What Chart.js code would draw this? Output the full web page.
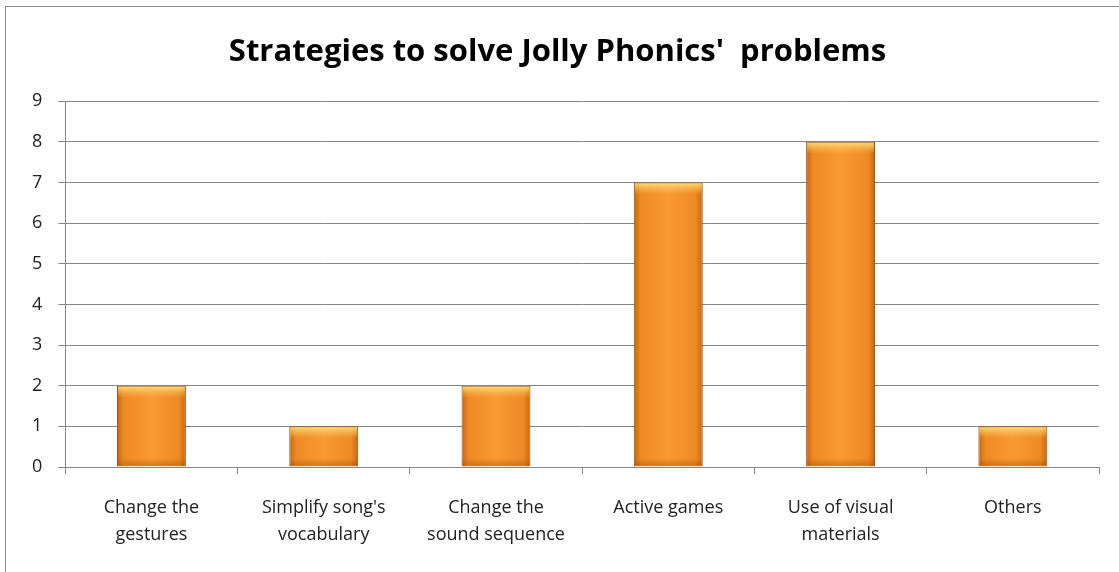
<!DOCTYPE html>
<html>
<head>
<meta charset="utf-8">
<script src="https://cdn.jsdelivr.net/npm/chart.js@4"></script>
<style>
  html, body { margin: 0; padding: 0; background: #fff; }
  #wrap { position: absolute; left: 0; top: 0; width: 1119px; height: 572px; }
  #frame { position: absolute; left: 5px; top: 6px; width: 1120px; height: 580px;
           border-left: 1px solid #8c8c8c; border-top: 1px solid #8c8c8c; }
</style>
</head>
<body>
<div id="wrap">
  <div id="frame"></div>
  <canvas id="strategies" width="1119" height="572"></canvas>
</div>
<script>
// chart data
const categories = [
    ['Change the', 'gestures'],
    ["Simplify song's", 'vocabulary'],
    ['Change the', 'sound sequence'],
    'Active games',
    ['Use of visual', 'materials'],
    'Others'
];
const answers = [2, 1, 2, 7, 8, 1];
const yTicks = [0, 1, 2, 3, 4, 5, 6, 7, 8, 9];

// orange bar fill, darker at the sides like the Excel bevel
function barFill(context) {
    const chart = context.chart;
    if (!chart.chartArea || !chart.scales.x) {
        return '#f28c26';
    }
    const x = chart.scales.x;
    const center = x.getPixelForValue(context.dataIndex);
    const half = (x.width / categories.length) * 0.4 / 2;
    const g = chart.ctx.createLinearGradient(center - half, 0, center + half, 0);
    g.addColorStop(0, '#c46614');
    g.addColorStop(0.1, '#ee8a24');
    g.addColorStop(0.5, '#f89a32');
    g.addColorStop(0.9, '#ee8a24');
    g.addColorStop(1, '#c46614');
    return g;
}

// light top edge + dark bottom edge on each bar
const bevel = {
    id: 'bevel',
    afterDatasetsDraw(chart) {
        const ctx = chart.ctx;
        chart.getDatasetMeta(0).data.forEach(bar => {
            const left = bar.x - bar.width / 2;
            const top = bar.y;
            const h = bar.base - bar.y;
            ctx.save();
            let g = ctx.createLinearGradient(0, top, 0, top + 12);
            g.addColorStop(0, 'rgba(255, 225, 130, 0.95)');
            g.addColorStop(1, 'rgba(255, 200, 90, 0)');
            ctx.fillStyle = g;
            ctx.fillRect(left + 1, top + 1, bar.width - 2, Math.min(12, h - 2));
            g = ctx.createLinearGradient(0, bar.base - 8, 0, bar.base);
            g.addColorStop(0, 'rgba(150, 70, 10, 0)');
            g.addColorStop(1, 'rgba(150, 70, 10, 0.45)');
            ctx.fillStyle = g;
            ctx.fillRect(left + 1, bar.base - 8, bar.width - 2, 7);
            ctx.restore();
        });
    }
};

const strategiesChart = document.getElementById('strategies');
new Chart(strategiesChart, {
    type: 'bar',
    data: {
        labels: categories,
        datasets: [{
            label: 'Strategies',
            data: answers,
            backgroundColor: barFill,
            borderColor: '#9a5414',
            borderWidth: 1,
            barPercentage: 0.4,
            categoryPercentage: 1
        }]
    },
    options: {
        responsive: false,
        animation: false,
        devicePixelRatio: 1,
        layout: {
            padding: { left: 16, right: 20, top: 22, bottom: 4 }
        },
        plugins: {
            legend: { display: false },
            tooltip: { enabled: false },
            title: {
                display: true,
                text: "Strategies to solve Jolly Phonics'  problems",
                color: '#000',
                font: { family: 'Open Sans', size: 31, weight: 'bold' },
                padding: { top: 12, bottom: 30 }
            }
        },
        scales: {
            x: {
                grid: {
                    display: true,
                    drawOnChartArea: false,
                    offset: true,
                    tickLength: 7,
                    color: '#868686'
                },
                border: { color: '#868686' },
                ticks: {
                    color: '#222',
                    padding: 20,
                    maxRotation: 0,
                    autoSkip: false,
                    font: { family: 'Open Sans', size: 18, lineHeight: 1.5 }
                }
            },
            y: {
                min: 0,
                max: 9,
                afterBuildTicks(axis) {
                    axis.ticks = yTicks.map(v => ({ value: v }));
                },
                grid: {
                    color: '#868686',
                    tickLength: 7
                },
                border: { color: '#868686' },
                ticks: {
                    color: '#222',
                    padding: 16,
                    font: { family: 'Open Sans', size: 18 }
                }
            }
        }
    },
    plugins: [bevel]
});
</script>
</body>
</html>
